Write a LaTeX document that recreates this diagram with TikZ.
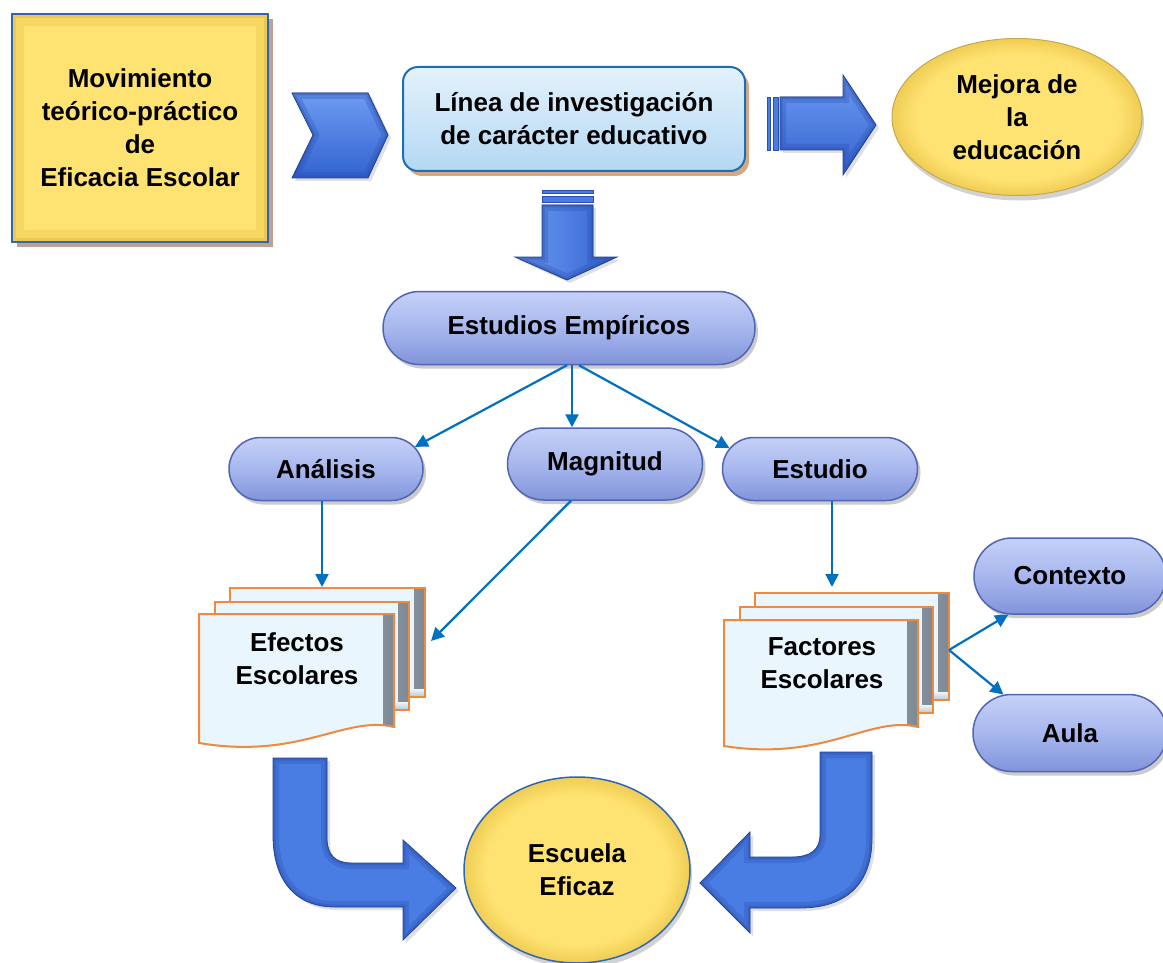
\documentclass[tikz,border=0pt]{standalone}
\usepackage{fontspec}
\setmainfont{Liberation Sans}
\usetikzlibrary{shapes.misc,shapes.geometric,shadows,arrows.meta}

\definecolor{ybase}{HTML}{FFE372}
\definecolor{yedge}{HTML}{E2BD40}
\definecolor{yrim}{HTML}{EFCD55}
\definecolor{bordblue}{HTML}{2F66B3}
\definecolor{shbrown}{HTML}{BFA191}
\definecolor{shorange}{HTML}{D9A682}
\definecolor{lbtop}{HTML}{E4F2FC}
\definecolor{lbbot}{HTML}{B3D8F3}
\definecolor{lbline}{HTML}{1E6EB6}
\definecolor{pilltop}{HTML}{C6D1F7}
\definecolor{pillmid}{HTML}{A7B7EE}
\definecolor{pillbot}{HTML}{8194DA}
\definecolor{pillline}{HTML}{5165B5}
\definecolor{connblue}{HTML}{0070C0}
\definecolor{abody}{HTML}{4A7DE4}
\definecolor{atop}{HTML}{6D9CF3}
\definecolor{abot}{HTML}{3262CF}
\definecolor{adark}{HTML}{2A4FAE}
\definecolor{paper}{HTML}{EAF6FD}
\definecolor{paperline}{HTML}{EE8A3E}
\definecolor{papershade}{HTML}{7D8A95}
\definecolor{goldline}{HTML}{C9A84A}

% radial fill for the yellow ellipses
\pgfdeclareradialshading{yelrad}{\pgfpoint{0bp}{0bp}}{color(0bp)=(ybase); color(20bp)=(ybase); color(25bp)=(yrim); color(50bp)=(yrim)}

% bevelled block shape: #1 fill options, #2 path
\newcommand\blockshape[2]{%
  \fill[black!35, opacity=.35, shift={(3,3)}] #2;
  \fill[#1] #2;
  \begin{scope}
    \clip #2;
    \draw[adark, line width=12pt, opacity=.3] #2;
    \draw[adark, line width=5pt, opacity=.35] #2;
  \end{scope}
  \draw[adark!85!black, line width=.8pt] #2;
}

\begin{document}
\begin{tikzpicture}[x=1pt,y=-1pt,
  txt/.style={font=\fontsize{26}{33}\selectfont\bfseries, align=center, text=black, inner sep=0pt},
  ybox/.style={rectangle, txt, draw=bordblue, line width=1.5pt, fill=ybase,
    general shadow={fill=shbrown, shadow xshift=5pt, shadow yshift=-5pt},
    path picture={
      \draw[yedge, line width=24pt, opacity=.3] (path picture bounding box.south west) rectangle (path picture bounding box.north east);
      \draw[yedge!80!brown, line width=8pt, opacity=.4] (path picture bounding box.south west) rectangle (path picture bounding box.north east);}},
  lbox/.style={rectangle, txt, rounded corners=15pt, draw=lbline, line width=2pt, top color=lbtop, bottom color=lbbot,
    general shadow={fill=shorange, shadow xshift=4pt, shadow yshift=-5pt}},
  yell/.style={ellipse, txt, draw=goldline, line width=1pt, shading=yelrad,
    general shadow={fill=black!35, shadow xshift=2pt, shadow yshift=-5pt, opacity=.5}},
  pill/.style={rounded rectangle, txt, draw=pillline, line width=1.5pt,
    top color=pilltop, bottom color=pillbot, middle color=pillmid,
    general shadow={fill=black!45, shadow xshift=3pt, shadow yshift=-4pt, opacity=.45}},
  sheet/.style={fill=paper, draw=paperline, line width=2pt, path picture={
    \fill[left color=paper, right color=papershade] ([xshift=-11pt]path picture bounding box.north east) rectangle (path picture bounding box.south east);
    \fill[top color=paper, bottom color=papershade!45!paper] ([yshift=8pt]path picture bounding box.south west) rectangle (path picture bounding box.south east);}},
  conn/.style={draw=connblue, line width=2.2pt, -{Triangle[length=13pt,width=13pt]}},
  stripe/.style={fill=abody, draw=adark, line width=.6pt}
]
\useasboundingbox (0,0) rectangle (1163,963);
\clip (0,0) rectangle (1163,963);
\fill[white] (0,0) rectangle (1163,963);

% top row
\node[ybox, minimum width=256pt, minimum height=228pt] (mov) at (140,128)
  {Movimiento\\teórico-práctico\\de\\Eficacia Escolar};
\node[lbox, minimum width=342pt, minimum height=104pt] (lin) at (574,119)
  {Línea de investigación\\de carácter educativo};
\node[yell, minimum width=250pt, minimum height=157pt] (mej) at (1017,117)
  {Mejora de\\la\\educación};

% block arrows of the top row
\blockshape{top color=atop, bottom color=abot}{(292,93) -- (368,93) -- (388,135) -- (368,178) -- (292,178) -- (313,135) -- cycle}
\fill[stripe] (767,97) rectangle (770,150);
\fill[stripe] (773,97) rectangle (778,150);
\blockshape{top color=atop, bottom color=abot}{(780,97) -- (843,97) -- (843,75) -- (876,125) -- (843,175) -- (843,150) -- (780,150) -- cycle}
\fill[stripe] (542,190) rectangle (593,193);
\fill[stripe] (542,196) rectangle (593,202);
\blockshape{left color=atop, right color=abot}{(542,205) -- (593,205) -- (593,257) -- (617,257) -- (567,280) -- (515,257) -- (542,257) -- cycle}

% studies
\node[pill, minimum width=372pt, minimum height=73pt] (emp) at (569,328) {Estudios Empíricos};
\node[pill, minimum width=194pt, minimum height=63pt] (ana) at (326,469) {Análisis};
\node[pill, minimum width=195pt, minimum height=72pt] (mag) at (605,464) {Magnitud};
\node[pill, minimum width=195pt, minimum height=63pt] (est) at (820,469) {Estudio};
\node[pill, minimum width=192pt, minimum height=76pt] (con) at (1070,576) {Contexto};
\node[pill, minimum width=194pt, minimum height=77pt] (aul) at (1070,733) {Aula};

% stacked documents: school effects
\path[sheet] (230,588) rectangle (425,697);
\path[sheet] (215,602) rectangle (409,710);
\path[sheet] (199,614) -- (394,614) -- (394,727) .. controls (345,715) and (300,760) .. (199,743) -- cycle;
\node[txt] (efe) at (297,659) {Efectos\\Escolares};

% stacked documents: school factors
\path[sheet] (755,593) rectangle (949,700);
\path[sheet] (740,607) rectangle (933,713);
\path[sheet] (724,620) -- (918,620) -- (918,727) .. controls (870,715) and (825,762) .. (724,746) -- cycle;
\node[txt] (fac) at (822,663) {Factores\\Escolares};

% effective school
\node[yell, draw=bordblue, line width=1.5pt, minimum width=226pt, minimum height=186pt] (esc) at (577,870)
  {Escuela\\Eficaz};

% curved block arrows into the effective school
\blockshape{fill=abody}{(273,758) -- (327,758) -- (327,838) .. controls (327,855) and (335,863) .. (352,863) -- (403,863) -- (403,840) -- (456,888) -- (403,940) -- (403,907) -- (335,907) .. controls (295,907) and (273,880) .. (273,835) -- cycle}
\blockshape{fill=abody}{(820,752) -- (872,752) -- (872,838) .. controls (872,885) and (845,908) .. (800,908) -- (750,908) -- (750,933) -- (700,883) -- (750,832) -- (750,857) -- (792,857) .. controls (810,857) and (820,850) .. (820,835) -- cycle}

% thin connectors
\coordinate (efeIn) at (322,587);
\coordinate (efeSide) at (431,641);
\coordinate (facIn) at (832,587);
\coordinate (facOut) at (949,650);
\draw[conn] ([xshift=-2pt]emp.south) -- (ana.14);
\draw[conn] ([xshift=3pt]emp.south) -- ([xshift=-33pt]mag.north);
\draw[conn] ([xshift=10pt]emp.south) -- (est.167);
\draw[conn] ([xshift=-4pt]ana.south) -- (efeIn);
\draw[conn] ([xshift=-34pt]mag.south) -- (efeSide);
\draw[conn] ([xshift=12pt]est.south) -- (facIn);
\draw[conn] (facOut) -- (con.212);
\draw[conn] (facOut) -- (aul.150);
\end{tikzpicture}
\end{document}
